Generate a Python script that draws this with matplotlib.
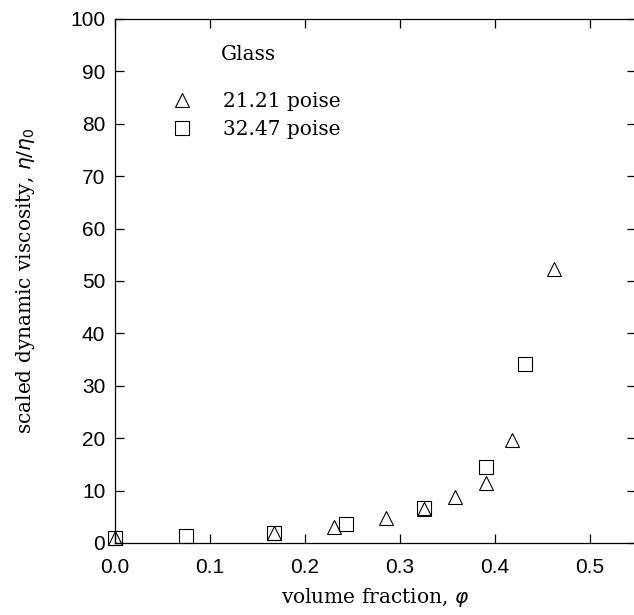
import matplotlib
matplotlib.use('Agg')
import matplotlib.pyplot as plt

# Data
phi_21 = [0.0, 0.167, 0.230, 0.285, 0.325, 0.358, 0.390, 0.418, 0.462]
eta_21 = [1.0, 2.0, 3.0, 4.7, 6.5, 8.8, 11.4, 19.6, 52.2]
phi_32 = [0.0, 0.075, 0.167, 0.243, 0.325, 0.390, 0.432]
eta_32 = [1.0, 1.3, 2.0, 3.6, 6.7, 14.5, 34.1]
labels = ['21.21 poise', '32.47 poise']

serif = 'DejaVu Serif'

fig = plt.figure(figsize=(6.34, 6.15), dpi=100)
# right spine sits just past the image edge, like the reference
ax = fig.add_axes([115 / 634, 1 - 543 / 615, 521 / 634, 524 / 615])

ax.plot(phi_21, eta_21, '^', ms=10.5, mfc='none', mec='black', mew=0.8,
        linestyle='none', label=labels[0], clip_on=False)
ax.plot(phi_32, eta_32, 's', ms=10, mfc='none', mec='black', mew=0.8,
        linestyle='none', label=labels[1], clip_on=False)

ax.set_xlim(0, 521 / 950)
ax.set_ylim(0, 100)
ax.set_xticks([0.0, 0.1, 0.2, 0.3, 0.4, 0.5])
ax.set_yticks(range(0, 101, 10))
ax.set_xticklabels(['0.0', '0.1', '0.2', '0.3', '0.4', '0.5'])

for s in ax.spines.values():
    s.set_linewidth(0.9)
ax.tick_params(direction='in', length=6.5, width=0.9, labelsize=15,
               top=True, right=True)
ax.tick_params(axis='x', pad=11)
ax.tick_params(axis='y', pad=7)
for lbl in ax.get_xticklabels() + ax.get_yticklabels():
    lbl.set_family('Liberation Sans')

ax.set_xlabel(r'volume fraction, $\varphi$', family=serif, fontsize=14.5, labelpad=6)
ax.set_ylabel(r'scaled dynamic viscosity, $\eta/\eta_0$', family=serif, fontsize=14.5, labelpad=24)

ax.text(0.203, 0.932, 'Glass', transform=ax.transAxes, family=serif, fontsize=14.5, va='center')
ax.legend(loc='upper left', bbox_to_anchor=(0.1, 0.86), frameon=False,
          prop={'family': serif, 'size': 14.5}, handletextpad=1.3,
          labelspacing=0.42, borderaxespad=0, borderpad=0, handlelength=1.5)

fig.savefig('out.png', dpi=100)
